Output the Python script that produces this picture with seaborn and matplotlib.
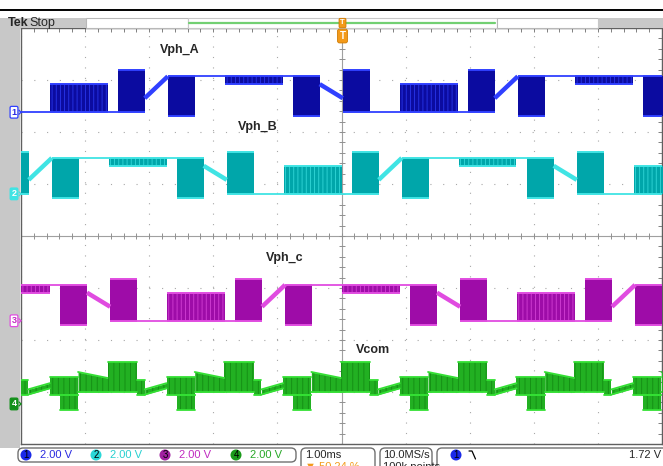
import numpy as np
import pandas as pd
import matplotlib
matplotlib.use("Agg")
import matplotlib.pyplot as plt
from matplotlib.patches import Rectangle, FancyBboxPatch, Circle
from matplotlib.ticker import MultipleLocator, NullFormatter
import seaborn as sns

# ============================================================
# 通道设置（读自截图：2.00 V/div，1.00 ms/div）
# ============================================================
CH_LABELS = ["Vph_A", "Vph_B", "Vph_c", "Vcom"]
CH_GND_DIV = [2.38, 0.81, -1.63, -3.23]      # 各通道地电平位置（格）
VOLTS_PER_DIV = 2.0
CH_DARK = ["#0b0ba0", "#00a6aa", "#9e0ca8", "#12901a"]
CH_BRIGHT = ["#3040ff", "#40e4e4", "#e04ce0", "#34e034"]
CH_TEXT = ["#2a2ae0", "#28d0d0", "#c02ac0", "#28a828"]
CH_SCALE_TEXT = ["2.00 V", "2.00 V", "2.00 V", "2.00 V"]

# ============================================================
# 相电压：一个周期内的分段（ms 从周期起点算，电压 V）
# flat/ramp: 从 PH_V0 连线到 PH_V1；block/burst: 在 PH_V0..PH_V1 之间填充
# ============================================================
PH_PERIOD_MS = 5.46
PH_START_MS = [-4.55, -0.90, -2.72]          # A, B, C 周期起点
PH_T0 = [0.00, 0.90, 1.06, 1.48, 1.84, 2.26, 2.73, 3.63, 3.79, 4.21, 4.57, 4.99]
PH_T1 = [0.90, 1.06, 1.48, 1.84, 2.26, 2.73, 3.63, 3.79, 4.21, 4.57, 4.99, 5.46]
PH_KIND = ["burst", "flat", "block", "ramp", "block", "flat",
           "burst", "flat", "block", "ramp", "block", "flat"]
PH_V0 = [0.00, 0.00, 0.00, 0.54, -0.15, 1.38, 1.08, 1.38, -0.15, 1.08, 0.00, 0.00]
PH_V1 = [1.08, 0.00, 1.62, 1.38, 1.38, 1.38, 1.38, 1.38, 1.38, 0.54, 1.62, 0.00]

# ============================================================
# 共模电压 Vcom：周期为相电压的 1/3，梯形带（下沿 lo0->lo1，上沿 hi0->hi1）
# ============================================================
VC_PERIOD_MS = 1.82
VC_START_MS = -4.55
VC_T0 = [0.00, 0.16, 0.44, 0.90, 1.36, 1.48]
VC_T1 = [0.44, 0.44, 0.90, 1.36, 1.48, 1.82]
VC_LO0 = [0.35, -0.23, 0.46, 0.46, 0.35, 0.36]
VC_LO1 = [0.35, -0.23, 0.46, 0.46, 0.35, 0.60]
VC_HI0 = [1.04, 0.35, 1.23, 1.62, 0.92, 0.56]
VC_HI1 = [1.04, 0.35, 1.00, 1.62, 0.92, 0.80]

# 标签位置（像素，读自截图）
LABEL_XY = [(160, 50), (238, 127), (266, 258), (356, 350)]

W, H = 663, 466
PLOT_L, PLOT_R, PLOT_T, PLOT_B = 21, 662, 28, 444
sns.set_style("white")
plt.rcParams["font.family"] = ["Liberation Sans", "DejaVu Sans"]
plt.rcParams["hatch.linewidth"] = 0.6

fig = plt.figure(figsize=(W / 100, H / 100), dpi=100)
fig.patch.set_facecolor("white")

ax = fig.add_axes([PLOT_L / W, (H - PLOT_B) / H, (PLOT_R - PLOT_L) / W,
                   (PLOT_B - PLOT_T) / H])
ax.set_xlim(-5, 5)
ax.set_ylim(-4, 4)


def to_div(ch, volts):
    return CH_GND_DIV[ch] + np.asarray(volts) / VOLTS_PER_DIV


def draw_band(ch, t0, t1, lo0, lo1, hi0, hi1, burst=False):
    xs = [t0, t1]
    ax.fill_between(xs, to_div(ch, [lo0, lo1]), to_div(ch, [hi0, hi1]),
                    color=CH_DARK[ch], lw=0, zorder=3)
    hatch_col = CH_BRIGHT[ch] if burst else CH_DARK[ch]
    ax.fill_between(xs, to_div(ch, [lo0, lo1]), to_div(ch, [hi0, hi1]),
                    facecolor="none", edgecolor=hatch_col,
                    hatch="||||" if burst else "|||", lw=0, zorder=3,
                    alpha=0.8 if burst else 0.5)


# ---- 三相电压 ----
for ch in range(3):
    rows = []
    for k in range(-2, 3):
        base = PH_START_MS[ch] + k * PH_PERIOD_MS
        for i in range(len(PH_T0)):
            t0, t1 = base + PH_T0[i], base + PH_T1[i]
            if t1 < -5.2 or t0 > 5.2:
                continue
            kind = PH_KIND[i]
            if kind in ("block", "burst"):
                lo, hi = PH_V0[i], PH_V1[i]
                draw_band(ch, t0, t1, lo, lo, hi, hi, burst=(kind == "burst"))
                rows.append(dict(t=t0, v=to_div(ch, hi), seg=f"{k}_{i}_h", w="edge"))
                rows.append(dict(t=t1, v=to_div(ch, hi), seg=f"{k}_{i}_h", w="edge"))
                rows.append(dict(t=t0, v=to_div(ch, lo), seg=f"{k}_{i}_l", w="edge"))
                rows.append(dict(t=t1, v=to_div(ch, lo), seg=f"{k}_{i}_l", w="edge"))
            else:
                rows.append(dict(t=t0, v=to_div(ch, PH_V0[i]), seg=f"{k}_{i}", w=kind))
                rows.append(dict(t=t1, v=to_div(ch, PH_V1[i]), seg=f"{k}_{i}", w=kind))
    df = pd.DataFrame(rows)
    for kind, lw in (("edge", 1.4), ("flat", 1.3), ("ramp", 3.2)):
        sub = df[df.w == kind]
        sns.lineplot(data=sub, x="t", y="v", units="seg", estimator=None,
                     color=CH_BRIGHT[ch], lw=lw, ax=ax, legend=False, zorder=4,
                     solid_capstyle="butt")

# ---- 共模电压 ----
rows = []
for k in range(-1, 7):
    base = VC_START_MS + k * VC_PERIOD_MS
    for i in range(len(VC_T0)):
        t0, t1 = base + VC_T0[i], base + VC_T1[i]
        if t1 < -5.2 or t0 > 5.2:
            continue
        ax.fill_between([t0, t1], to_div(3, [VC_LO0[i], VC_LO1[i]]),
                        to_div(3, [VC_HI0[i], VC_HI1[i]]),
                        color="#22b022", lw=0, zorder=3)
        ax.fill_between([t0, t1], to_div(3, [VC_LO0[i], VC_LO1[i]]),
                        to_div(3, [VC_HI0[i], VC_HI1[i]]),
                        facecolor="none", edgecolor="#0a740a", hatch="|||",
                        lw=0, zorder=3, alpha=0.6)
        rows.append(dict(t=t0, v=to_div(3, VC_HI0[i]), seg=f"{k}_{i}_h"))
        rows.append(dict(t=t1, v=to_div(3, VC_HI1[i]), seg=f"{k}_{i}_h"))
        rows.append(dict(t=t0, v=to_div(3, VC_LO0[i]), seg=f"{k}_{i}_l"))
        rows.append(dict(t=t1, v=to_div(3, VC_LO1[i]), seg=f"{k}_{i}_l"))
vdf = pd.DataFrame(rows)
sns.lineplot(data=vdf, x="t", y="v", units="seg", estimator=None,
             color=CH_BRIGHT[3], lw=1.3, ax=ax, legend=False, zorder=4)

# ---- 栅格 ----
ax.xaxis.set_major_locator(MultipleLocator(1))
ax.yaxis.set_major_locator(MultipleLocator(1))
ax.xaxis.set_minor_locator(MultipleLocator(0.2))
ax.yaxis.set_minor_locator(MultipleLocator(0.2))
ax.xaxis.set_major_formatter(NullFormatter())
ax.yaxis.set_major_formatter(NullFormatter())
ax.xaxis.grid(True, which="major", color="#a8a8a8", lw=0.8, linestyle=(0, (1, 8.4)))
ax.yaxis.grid(True, which="major", color="#a8a8a8", lw=0.8, linestyle=(0, (1, 10.5)))
ax.set_axisbelow(True)
ax.tick_params(which="both", direction="in", top=True, right=True,
               length=3, width=0.7, color="#808080", labelbottom=False, labelleft=False)
ax.axhline(0, color="#a0a0a0", lw=0.8, zorder=1)
ax.axvline(0, color="#a0a0a0", lw=0.8, zorder=1)
xt = np.arange(-5, 5.01, 0.2)
yt = np.arange(-4, 4.01, 0.2)
ax.plot(xt, np.zeros_like(xt), ls="none", marker="|", ms=5, mew=0.7, color="#909090", zorder=1)
ax.plot(np.zeros_like(yt), yt, ls="none", marker="_", ms=5, mew=0.7, color="#909090", zorder=1)
for s in ax.spines.values():
    s.set_color("#606060")
    s.set_linewidth(1.0)
ax.set_xlabel("")
ax.set_ylabel("")

# ============================================================
# 外框 / 状态栏（像素坐标覆盖层）
# ============================================================
ov = fig.add_axes([0, 0, 1, 1], zorder=5)
ov.set_xlim(0, W)
ov.set_ylim(H, 0)
ov.axis("off")
ov.patch.set_alpha(0)

ov.plot([0, W], [10, 10], color="black", lw=1.4)
ov.add_patch(Rectangle((0, 18), 86, 10, fc="#c8c8c8", ec="none"))
ov.add_patch(Rectangle((0, 18), 20, 430, fc="#c8c8c8", ec="none"))
ov.add_patch(Rectangle((86, 18), 102, 10, fc="white", ec="#b8b8b8", lw=0.8))
ov.add_patch(Rectangle((188, 18), 309, 10, fc="white", ec="#c8c8c8", lw=0.8))
ov.plot([189, 495], [22.5, 22.5], color="#72d072", lw=1.6)
ov.add_patch(Rectangle((497, 18), 101, 10, fc="white", ec="#b8b8b8", lw=0.8))
ov.add_patch(Rectangle((598, 18), 65, 10, fc="#c8c8c8", ec="none"))
ov.text(8, 23, "Tek", fontsize=9, fontweight="bold", va="center", ha="left")
ov.text(29, 23, "Stop", fontsize=9, va="center", ha="left")

# 通道地电平标记（由通道位置换算到像素）
div_px = (PLOT_B - PLOT_T) / 8.0
marker_fc = ["white", CH_BRIGHT[1], "white", CH_DARK[3]]
marker_ec = [CH_BRIGHT[0], CH_BRIGHT[1], CH_BRIGHT[2], CH_DARK[3]]
marker_tc = [CH_TEXT[0], "white", CH_TEXT[2], "white"]
for ch in range(4):
    py = PLOT_T + (4 - CH_GND_DIV[ch]) * div_px
    ov.text(14, py, str(ch + 1), ha="center", va="center", fontsize=6.5,
            color=marker_tc[ch], fontweight="bold",
            bbox=dict(boxstyle="round,pad=0.15", fc=marker_fc[ch],
                      ec=marker_ec[ch], lw=0.9))
    ov.plot([19, 21], [py - 2, py], color=marker_ec[ch], lw=0.9)
    ov.plot([19, 21], [py + 2, py], color=marker_ec[ch], lw=0.9)

# 触发位置标记
ov.text(342.5, 23, "T", fontsize=5.5, color="white", fontweight="bold", ha="center",
        va="center", bbox=dict(boxstyle="round,pad=0.15", fc="#f39a1a", ec="#d07a00", lw=0.6))
ov.text(342.5, 36, "T", fontsize=7, color="white", fontweight="bold", ha="center",
        va="center", bbox=dict(boxstyle="round,pad=0.2", fc="#f39a1a", ec="#d07a00", lw=0.6))

# 波形名称
for (lx, ly), lab in zip(LABEL_XY, CH_LABELS):
    ov.text(lx, ly, lab, fontsize=9, fontweight="bold", ha="left", va="center")

# 底部信息栏
ov.add_patch(FancyBboxPatch((18, 448), 278, 14, boxstyle="round,pad=0,rounding_size=5",
                            fc="white", ec="#707070", lw=1.0))
ov.add_patch(FancyBboxPatch((301, 448), 74, 30, boxstyle="round,pad=0,rounding_size=5",
                            fc="white", ec="#707070", lw=1.0))
ov.add_patch(FancyBboxPatch((380, 448), 52, 30, boxstyle="round,pad=0,rounding_size=5",
                            fc="white", ec="#707070", lw=1.0))
ov.add_patch(FancyBboxPatch((437, 448), 240, 30, boxstyle="round,pad=0,rounding_size=5",
                            fc="white", ec="#707070", lw=1.0))
circ_x = [26, 96, 165, 236]
circ_fc = ["#1a2ae8", "#2ad8d8", "#a020a0", "#1a9a1a"]
for ch in range(4):
    ov.add_patch(Circle((circ_x[ch], 455), 5.5, fc=circ_fc[ch], ec="none"))
    ov.text(circ_x[ch], 455.5, str(ch + 1), fontsize=7, ha="center", va="center",
            color="black")
    ov.text(circ_x[ch] + 14, 455.5, CH_SCALE_TEXT[ch], fontsize=8, ha="left",
            va="center", color=CH_TEXT[ch])
ov.text(305, 455.5, "1.00ms", fontsize=8, ha="left", va="center")
ov.text(305, 462, "\u25BC 50.24 %", fontsize=8, ha="left", va="top", color="#f39a1a")
ov.text(383, 455.5, "10.0MS/s", fontsize=8, ha="left", va="center")
ov.text(383, 462, "100k points", fontsize=8, ha="left", va="top")
ov.add_patch(Circle((456, 455), 5.5, fc="#1a2ae8", ec="none"))
ov.text(456, 455.5, "1", fontsize=7, ha="center", va="center", color="black")
ov.plot([469, 472, 475.5], [451, 451, 459], color="black", lw=0.9)
ov.text(661, 455.5, "1.72 V", fontsize=8, ha="right", va="center")

fig.savefig("out.png", dpi=100)
